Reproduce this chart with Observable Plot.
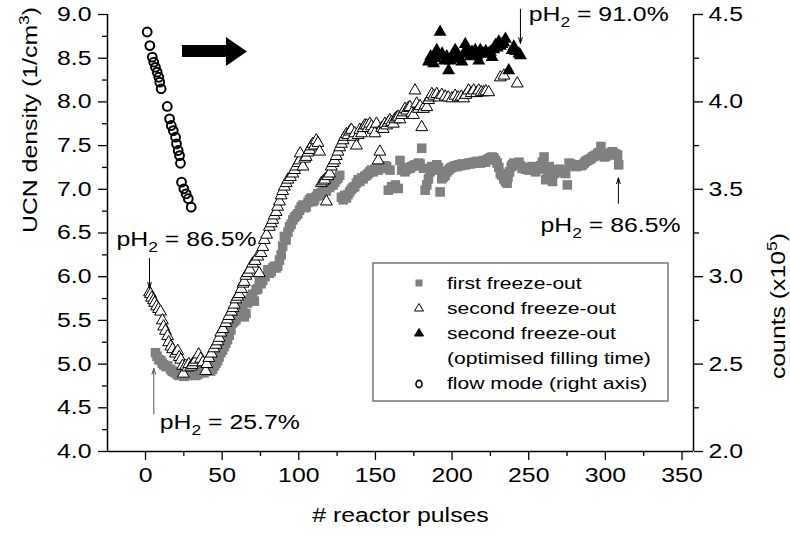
<!DOCTYPE html>
<html><head><meta charset="utf-8">
<script src="https://cdn.jsdelivr.net/npm/d3@7"></script>
<script src="https://cdn.jsdelivr.net/npm/@observablehq/plot@0.6"></script>
<style>
body{margin:0;background:#fff;}
#chart{position:relative;width:790px;height:540px;}
svg text{font-family:"Liberation Sans",Arial,sans-serif;}
</style></head><body><div id="chart"></div>
<script>
// ---------- axes ----------
const xDomain = [-24.8, 357.5];
const yDomain = [4, 9];
const xMajor = [0, 50, 100, 150, 200, 250, 300, 350];
const xMinor = [25, 75, 125, 175, 225, 275, 325];
const yMajor = [4.0, 4.5, 5.0, 5.5, 6.0, 6.5, 7.0, 7.5, 8.0, 8.5, 9.0];
const yMinor = [4.25, 4.75, 5.25, 5.75, 6.25, 6.75, 7.25, 7.75, 8.25, 8.75];
const rightMajor = [2.0, 2.5, 3.0, 3.5, 4.0, 4.5];     // counts (x10^5)
const rightMinor = [2.25, 2.75, 3.25, 3.75, 4.25];
const toLeft = c => 4 + (c - 2) * 2;                   // right axis -> left axis units

// ---------- data: [reactor pulse, UCN density] ----------
const firstFreeze = [[6.5,5.13],[7.5,5.09],[8.7,5.05],[10,5.04],[11,5.01],[12,4.99],[13.5,4.97],[14.5,4.98],[16.4,4.94],[17.5,4.92],[18.5,4.91],[19.8,4.9],[20.8,4.88],[22,4.87],[23.2,4.89],[25.1,4.86],[26.5,4.88],[28,4.87],[29.5,4.9],[31,4.88],[32.5,4.87],[33.9,4.88],[35,4.9],[36.5,4.93],[38.2,4.9],[39.5,4.92],[41,4.93],[42.5,4.92],[43.7,4.94],[45,4.98],[46,5.01],[47,5.04],[48,5.08],[49.1,5.13],[50.2,5.16],[51.3,5.2],[52.4,5.24],[53.5,5.28],[54.6,5.33],[55.7,5.39],[56.8,5.47],[58,5.49],[59,5.51],[60.5,5.55],[62.3,5.66],[63.4,5.6],[64.4,5.54],[65.5,5.58],[66.6,5.7],[67.7,5.73],[68.8,5.77],[70,5.8],[71,5.72],[72.1,5.85],[73.2,5.86],[74.2,5.94],[75.4,5.92],[76.5,5.96],[78,6],[79.8,6.08],[81,6.04],[82,6.06],[83,6.1],[84.1,6.12],[85.2,6.1],[86.3,6.12],[87.4,6.19],[88.5,6.25],[89.5,6.35],[90.6,6.46],[91.7,6.42],[92.9,6.51],[93.9,6.57],[95,6.6],[96.1,6.65],[97.2,6.68],[98.3,6.7],[99.4,6.72],[100.5,6.76],[101.6,6.8],[102.7,6.82],[103.8,6.79],[104.8,6.8],[106,6.85],[107,6.88],[108.1,6.9],[109.2,6.86],[110.3,6.88],[111.4,6.92],[112.5,6.95],[113.6,6.93],[114.7,6.96],[115.8,6.97],[117,7],[118,6.98],[119.1,7.03],[120.2,7.02],[121.2,7.05],[122.3,7.05],[123.4,7.08],[124.5,7.11],[125.6,7.13],[126.7,7.16],[127.8,6.91],[129,6.88],[130,6.93],[131.1,6.9],[132.1,6.94],[133.2,6.97],[134.3,7],[135.4,7.02],[136.5,7.03],[137.6,7.07],[138.7,7.11],[139.8,7.09],[141,7.13],[142,7.12],[143.1,7.15],[144.2,7.16],[145.3,7.18],[146.3,7.2],[147.4,7.22],[148.5,7.2],[149.6,7.23],[150.7,7.24],[151.8,7.22],[152.9,7.25],[154,7.26],[155.1,7.24],[156.2,7.27],[157.3,7.26],[158.4,6.99],[159.5,7.22],[160.6,7.03],[161.7,7.01],[163,7.05],[164.9,7.01],[166,7.33],[167.1,7.22],[168.2,7.24],[169.3,7.2],[170.4,7.23],[171.5,7.25],[172.6,7.24],[173.7,7.26],[174.8,7.27],[175.9,7.28],[177,7.27],[178,7.3],[179.1,7.29],[180.2,7.47],[181.3,7.24],[182.4,6.99],[183.5,7.05],[184.6,7.12],[185.7,7.2],[186.8,7.26],[187.9,7.24],[188.9,7.22],[190,7.28],[191.1,7.25],[192.2,6.97],[193.3,7.12],[194.4,7.14],[195.5,7.16],[196.6,7.2],[197.7,7.22],[198.8,7.24],[199.9,7.25],[201,7.26],[202.1,7.27],[203.2,7.26],[204.3,7.28],[205.4,7.27],[206.5,7.29],[207.5,7.28],[208.6,7.28],[209.7,7.29],[210.8,7.3],[212,7.29],[213,7.3],[214.1,7.31],[215.2,7.3],[216.3,7.32],[217.4,7.31],[218.5,7.3],[219.6,7.32],[220.7,7.33],[221.8,7.31],[222.9,7.34],[224,7.35],[225.1,7.36],[226.1,7.37],[227.2,7.36],[228.3,7.33],[229.4,7.3],[230.5,7.25],[231.5,7.18],[232.6,7.16],[233.7,7.12],[234.8,7.09],[235.9,7.07],[236.5,7.14],[237.5,7.2],[238.6,7.26],[239.4,7.28],[240.3,7.3],[241.4,7.29],[242.5,7.28],[243.6,7.31],[244.6,7.27],[245.7,7.24],[246.8,7.25],[248,7.23],[249,7.24],[250.1,7.22],[251.2,7.25],[252.3,7.26],[253.4,7.22],[254.5,7.2],[255.6,7.23],[256.7,7.24],[257.8,7.27],[258.9,7.31],[260,7.37],[261.1,7.11],[262.2,7.2],[263.4,7.26],[264.4,7.22],[265.5,7.09],[266.6,7.18],[267.7,7.2],[268.7,7.22],[269.8,7.23],[271,7.21],[272,7.2],[273.1,7.19],[274.1,7.18],[275.2,7.05],[276.3,7.3],[277.4,7.29],[278.5,7.27],[279.6,7.28],[280.7,7.26],[281.8,7.27],[282.9,7.28],[284,7.27],[285.1,7.28],[286.2,7.3],[287.3,7.32],[288.3,7.33],[289.4,7.34],[290.5,7.35],[291.6,7.37],[292.7,7.38],[293.8,7.39],[295,7.41],[296,7.42],[297.1,7.49],[298.2,7.4],[299.3,7.37],[300.4,7.38],[301.4,7.39],[302.5,7.4],[303.6,7.42],[304.7,7.43],[305.8,7.41],[306.9,7.4],[308,7.39],[308.7,7.28]];

const secondFreeze = [[2.6,5.82],[3.3,5.8],[4,5.76],[5.2,5.73],[6,5.7],[7.2,5.66],[8.5,5.63],[9.8,5.6],[11,5.5],[11.8,5.43],[13,5.38],[14.4,5.32],[15.1,5.25],[16.5,5.2],[17.7,5.17],[19.5,5.12],[21,5.15],[22,5.08],[23,5.05],[24.2,4.98],[24.6,4.89],[26.2,4.98],[27.5,4.96],[28.2,5],[29.5,4.97],[30.5,4.99],[31.5,5.02],[33,5.05],[34.7,5.11],[36,5.06],[37.4,5.02],[39.3,4.92],[40,5],[41.3,5.07],[43,5.12],[44.6,5.18],[46,5.22],[47.2,5.26],[48,5.3],[49.1,5.36],[50.5,5.4],[52.4,5.47],[53.5,5.51],[54.4,5.55],[56,5.6],[57,5.64],[57.9,5.68],[59,5.74],[60,5.77],[61.1,5.8],[62.5,5.86],[63.6,5.92],[64.4,5.94],[65.5,6.01],[66.6,6.04],[68,6.08],[69.9,6.15],[71.5,6.18],[73.2,6.23],[74.2,6.04],[75.4,6.27],[76.5,6.34],[77.5,6.42],[79,6.48],[80.8,6.57],[82,6.61],[83,6.65],[84,6.7],[85.2,6.74],[86.2,6.8],[87.4,6.86],[88.5,6.93],[89.5,6.98],[90.6,7.03],[91.8,7.07],[92.9,7.11],[94.5,7.14],[96.1,7.18],[97.2,7.22],[98.3,7.26],[99.5,7.3],[100.5,7.33],[100.9,7.41],[102.7,7.26],[103.8,7.35],[104.8,7.37],[106,7.42],[107,7.45],[108,7.49],[109.2,7.52],[110.3,7.5],[111.4,7.56],[112.5,7.53],[113.6,7.43],[114.7,7.07],[116,7.09],[117,7.11],[118,6.86],[119,7.15],[120.1,7.18],[121.2,7.26],[122.3,7.3],[123.4,7.33],[124.5,7.38],[125.6,7.43],[126.7,7.48],[127.8,7.52],[128.9,7.56],[129.9,7.6],[131,7.63],[132.1,7.62],[133.2,7.66],[134.3,7.68],[135.5,7.6],[136.5,7.64],[137.6,7.5],[138.7,7.62],[139.8,7.68],[140.9,7.64],[142,7.7],[143.1,7.73],[144.2,7.73],[145.2,7.7],[146.3,7.75],[147.4,7.72],[148.5,7.68],[149.6,7.64],[150.7,7.75],[151.8,7.33],[152.9,7.43],[154,7.7],[155.1,7.69],[156.2,7.75],[157.3,7.73],[158.3,7.76],[159.4,7.79],[160.5,7.77],[161.7,7.75],[162.7,7.8],[163.8,7.82],[164.9,7.83],[166,7.8],[167.1,7.85],[168.2,7.88],[169.3,7.92],[170.4,7.9],[171.4,7.93],[172.5,7.94],[173.7,7.87],[174.8,7.85],[175.8,8.13],[176.9,7.98],[178,7.92],[179.1,7.95],[180.2,7.71],[181.3,7.92],[182.4,7.96],[183.5,7.94],[184.6,8.02],[185.7,8.05],[186.8,8.09],[188,8.07],[190,8.09],[191.5,8.05],[193.3,8.08],[195.5,8.06],[197.5,8.05],[199.9,8.04],[202,8.07],[204,8.05],[206,8.06],[207.5,8.04],[209,8.08],[210.8,8.13],[212.5,8.1],[214.1,8.13],[216,8.1],[217.4,8.13],[219,8.11],[220.6,8.11],[222,8.12],[223.9,8.11],[231.5,8.28],[233.8,8.3],[242.5,8.21]];

const optimisedFill = [[184.6,8.46],[186,8.52],[187.9,8.44],[189,8.5],[190,8.59],[191.2,8.53],[192.2,8.8],[193.5,8.55],[195,8.47],[196.5,8.52],[197.7,8.36],[198.8,8.47],[200,8.52],[201,8.55],[202,8.59],[203.2,8.56],[204.3,8.51],[205.3,8.49],[206.4,8.46],[207.5,8.55],[208.6,8.66],[209.7,8.58],[210.8,8.55],[212,8.52],[213,8.57],[214,8.54],[215.1,8.59],[216.3,8.53],[217.4,8.47],[218.4,8.59],[219.5,8.56],[220.6,8.55],[222,8.58],[223.9,8.55],[225,8.57],[226.1,8.51],[227.2,8.6],[228.3,8.65],[229.4,8.62],[230.5,8.69],[231.5,8.64],[232.6,8.66],[233.7,8.68],[234.8,8.72],[237,8.36],[239.2,8.59],[240.3,8.63],[241.5,8.58],[243.6,8.55],[244.6,8.53]];

// flow mode: [reactor pulse, counts (x10^5)] on the right axis
const flowMode = [[1.1,4.40],[2.8,4.322],[4.4,4.256],[5.4,4.227],[6.5,4.198],[7.6,4.17],[8.7,4.141],[9.3,4.113],[10.2,4.075],[14.2,3.974],[15.7,3.903],[16.8,3.865],[18.1,3.836],[19.6,3.798],[20.2,3.76],[21.3,3.722],[22.2,3.693],[22.8,3.649],[23.5,3.541],[25,3.503],[26.5,3.474],[27.9,3.446],[29.8,3.398]];

// ---------- annotations ----------
const annLabels = [
  {x: -18.9, y: 6.42, text: "pH_2 = 86.5%"},
  {x: 9.3,   y: 4.33, text: "pH_2 = 25.7%"},
  {x: 250.0, y: 9.0,  text: "pH_2 = 91.0%"},
  {x: 257.7, y: 6.59, text: "pH_2 = 86.5%"}
];
const annArrows = [
  {x1: 2.6,   y1: 6.21, x2: 2.6,   y2: 5.87, c: "black"},
  {x1: 5.4,   y1: 4.43, x2: 5.4,   y2: 4.95, c: "#555"},
  {x1: 244.6, y1: 9.06, x2: 244.6, y2: 8.67, c: "black"},
  {x1: 308.5, y1: 6.84, x2: 308.5, y2: 7.13, c: "black"}
];
const bigArrowBody = [{x1: 24.1, x2: 52.8, y1: 8.508, y2: 8.645}];
const bigArrowHead = [{x: 52.8, y1: 8.405, y2: 8.737}, {x: 66.5, y1: 8.571, y2: 8.571}];

const legendItems = [
  {label: "first freeze-out", sym: "square"},
  {label: "second freeze-out", sym: "openTri"},
  {label: "second freeze-out", sym: "fillTri"},
  {label: "(optimised filling time)", sym: null},
  {label: "flow mode (right axis)", sym: "circle"}
];

const pt = a => a.map(([x, y]) => ({x, y}));
const FS = 20;

const plot = Plot.plot({
  width: 790, height: 540,
  marginLeft: 107, marginRight: 97, marginTop: 14, marginBottom: 89,
  style: {fontFamily: "Liberation Sans, Arial, sans-serif", fontSize: FS + "px", background: "white", color: "black", overflow: "visible"},
  x: {domain: xDomain},
  y: {domain: yDomain},
  marks: [
    Plot.axisX({ticks: xMajor, tickSize: 9, tickPadding: 7, tickFormat: d => String(d), label: null, fontSize: FS, strokeWidth: 1.3}),
    Plot.axisX({ticks: xMinor, tickSize: 5, tickFormat: () => "", label: null, strokeWidth: 1.3}),
    Plot.axisY({ticks: yMajor, tickSize: 9, tickPadding: 7, tickFormat: d => d.toFixed(1), label: null, fontSize: FS, strokeWidth: 1.3}),
    Plot.axisY({ticks: yMinor, tickSize: 5, tickFormat: () => "", label: null, strokeWidth: 1.3}),
    Plot.axisY({anchor: "right", ticks: rightMajor.map(toLeft), tickSize: 9, tickPadding: 6,
      tickFormat: d => (2 + (d - 4) / 2).toFixed(1), label: null, fontSize: FS, strokeWidth: 1.3}),
    Plot.axisY({anchor: "right", ticks: rightMinor.map(toLeft), tickSize: 5, tickFormat: () => "", label: null, strokeWidth: 1.3}),
    Plot.ruleX([xDomain[0], xDomain[1]], {strokeWidth: 1.5}),
    Plot.ruleY([yDomain[0]], {strokeWidth: 1.5}),

    Plot.dot(pt(firstFreeze), {x: "x", y: "y", symbol: "square", r: 5.4, fill: "#808080"}),
    Plot.dot(pt(secondFreeze), {x: "x", y: "y", symbol: "triangle", r: 4.4, fill: "white", stroke: "black", strokeWidth: 1}),
    Plot.dot(pt(optimisedFill), {x: "x", y: "y", symbol: "triangle", r: 4.8, fill: "black"}),
    Plot.dot(flowMode.map(([x, c]) => ({x, c})), {x: "x", y: d => toLeft(d.c), symbol: "circle", r: 4.4, fill: "none", stroke: "black", strokeWidth: 2}),

    Plot.rect(bigArrowBody, {x1: "x1", x2: "x2", y1: "y1", y2: "y2", fill: "black"}),
    Plot.areaY(bigArrowHead, {x: "x", y1: "y1", y2: "y2", fill: "black"}),

    Plot.arrow(annArrows, {x1: "x1", y1: "y1", x2: "x2", y2: "y2", stroke: "c", strokeWidth: 1, headLength: 9, headAngle: 35}),
    Plot.text(annLabels, {x: "x", y: "y", text: "text", textAnchor: "start", fontSize: FS}),

    Plot.text(["UCN density (1/cm^3)"], {frameAnchor: "left", rotate: -90, dx: -77, text: d => d, fontSize: FS}),
    Plot.text(["counts (x10^5)"], {frameAnchor: "right", rotate: -90, dx: 85, text: d => d, fontSize: FS}),
    Plot.text(["# reactor pulses"], {frameAnchor: "bottom", dy: 70, text: d => d, fontSize: FS})
  ]
});
document.getElementById("chart").append(plot);
const svg = plot;
const NS = "http://www.w3.org/2000/svg";

// Legend (positioned inside the plot frame, pixel layout)
const lg = d3.select(svg).append("g").attr("font-size", 17).attr("text-anchor", "start");
lg.append("rect").attr("x", 373).attr("y", 263).attr("width", 295).attr("height", 138)
  .attr("fill", "white").attr("stroke", "#555").attr("stroke-width", 1.2);
legendItems.forEach((it, i) => {
  const cy = 283 + i * 25, sx = 419;
  if (it.sym === "square") lg.append("rect").attr("x", sx - 3.5).attr("y", cy - 3.5).attr("width", 7).attr("height", 7).attr("fill", "#808080");
  if (it.sym === "openTri" || it.sym === "fillTri") lg.append("path").attr("d", `M${sx},${cy - 4.5}L${sx + 4.5},${cy + 3}L${sx - 4.5},${cy + 3}Z`)
    .attr("fill", it.sym === "fillTri" ? "black" : "white").attr("stroke", "black").attr("stroke-width", 1);
  if (it.sym === "circle") lg.append("ellipse").attr("cx", sx).attr("cy", cy + 1).attr("rx", 3).attr("ry", 3.6).attr("fill", "none").attr("stroke", "black").attr("stroke-width", 1.6);
  lg.append("text").attr("x", 447).attr("y", cy).attr("dy", "0.35em").attr("text-anchor", "start").text(it.label);
});

// rich text: _2 subscript, ^3 superscript
svg.querySelectorAll("text").forEach(t => {
  const s = t.textContent;
  if (!/[_^]\d/.test(s) || t.children.length) return;
  t.textContent = "";
  let shift = 0;
  s.split(/([_^]\d)/).forEach(p => {
    if (!p) return;
    const ts = document.createElementNS(NS, "tspan");
    if (p[0] === "_" || p[0] === "^") {
      const d = p[0] === "_" ? 6 : -8;
      ts.setAttribute("dy", d - shift); shift = d;
      ts.setAttribute("font-size", "14");
      ts.textContent = p.slice(1);
    } else {
      ts.setAttribute("dy", -shift); shift = 0;
      ts.textContent = p;
    }
    t.appendChild(ts);
  });
});
// wider glyphs, as in the reference
const K = 1.24;
svg.querySelectorAll("text").forEach(t => {
  const L = t.getComputedTextLength();
  if (L > 0) { t.setAttribute("textLength", (L * K).toFixed(1)); t.setAttribute("lengthAdjust", "spacingAndGlyphs"); }
});
</script></body></html>
